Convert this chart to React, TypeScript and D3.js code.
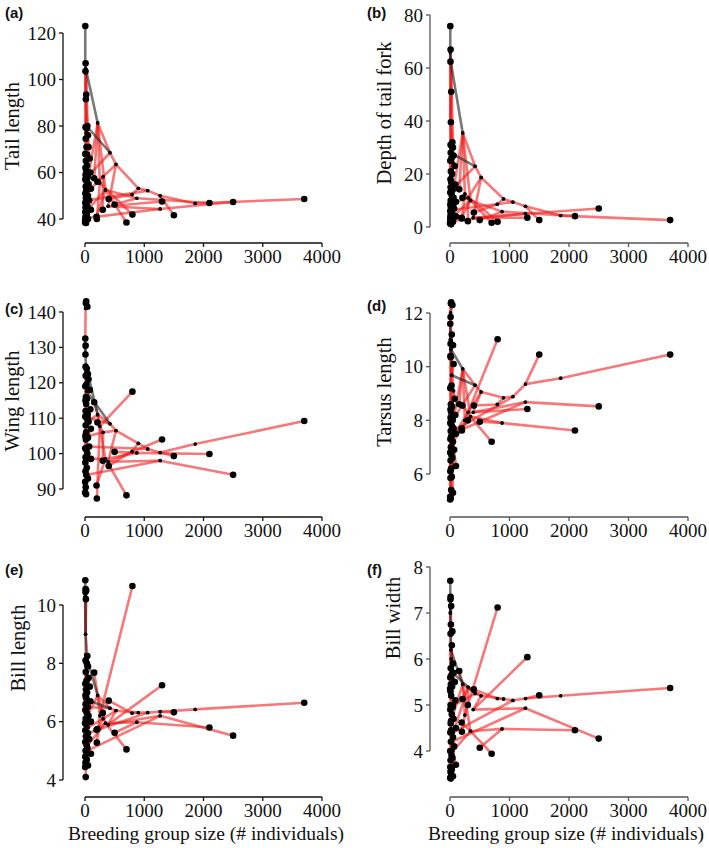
import React from "react";
import * as d3 from "d3";

// ---------- DATA ----------
const xTickValues = [0, 1000, 2000, 3000, 4000];

// Tree: internal nodes 0-26, big-group tips 27-40, small-group tips 41-85
const nodeX = [
  15, 4, 214, 422, 28, 523, 900, 1058, 1268, 1860, 1268, 875, 795, 345, 305, 250, 390,
  60, 40, 50, 20, 45, 35, 20, 55, 10, 70,
  3700, 2500, 2100, 1500, 1300, 800, 700, 500, 400, 300, 200, 195, 210, 155,
  5, 10, 8, 20, 15, 40, 10, 30, 50, 12, 60, 25, 5, 80, 15, 35, 8, 20, 90, 10, 45, 5, 30, 60, 12,
  100, 20, 6, 50, 15, 70, 4, 25, 40, 10, 100, 5, 30, 8, 20, 50, 3, 12, 2, 18,
];

const nodeParent = [
  -1, 0, 0, 2, 3, 3, 5, 6, 7, 8, 16, 13, 6, 2, 5, 2, 5,
  0, 2, 13, 4, 7, 10, 17, 14, 1, 3,
  9, 10, 11, 8, 16, 15, 13, 11, 12, 14, 15, 13, 14, 2,
  1, 1, 1, 25, 25, 25, 20, 20, 20, 20, 4, 17, 17, 17, 23, 23, 23, 23, 26, 26, 26,
  18, 18, 18, 18, 24, 24, 24, 24, 21, 21, 21, 21, 19, 19, 19, 19, 19, 22, 22, 22, 22, 0, 0, 0,
];

const grayEdges = [1, 2, 4, 41, 42, 43];
const firstTip = 27;

const tailLength = [
  104.5, 107, 81.3, 68.5, 80, 63.5, 53.2, 52.2, 50.0, 46.7, 44.3, 48.9, 50.5, 52.5, 58.2, 55.5, 45.5,
  68, 56, 44, 77, 48, 40.5, 63, 52, 92, 59,
  48.6, 47.3, 46.9, 41.6, 47.5, 41.9, 38.5, 46.2, 48.6, 44.0, 40.0, 41.0, 56.0, 57.5,
  123, 107, 103.5, 93.5, 91.5, 80, 79.5, 79, 76, 74.5, 71, 71, 68, 66, 65, 63, 62, 61, 60, 59, 58,
  57, 56, 55, 54, 53, 52, 51, 50, 49, 48, 47, 46, 45.5, 45, 44, 43, 42, 41, 40.5, 40, 39.5, 39, 38.5, 38.3,
];

const forkDepth = [
  62, 66, 35.5, 22.9, 27.8, 18.7, 10.6, 9.4, 7.8, 4.3, 5.0, 5.8, 8.6, 10.0, 11.0, 12.5, 3.5,
  24, 11.5, 4, 29, 6.5, 2.3, 19, 9, 40, 15,
  2.6, 7.0, 4.1, 2.6, 3.5, 2.0, 1.6, 2.6, 5.5, 2.2, 3.2, 3.5, 11.0, 14.2,
  75.8, 67, 62.4, 51, 39.5, 32, 31, 30.5, 30, 28, 27, 26, 25, 23, 21, 20, 18, 17, 16, 15, 14,
  13, 12, 11, 10, 9.5, 9, 8.5, 8, 7.5, 7, 6, 5.5, 5, 4.5, 4, 3.5, 3, 2.8, 2.5, 2, 1.8, 1.5, 1.3, 1.0,
];

const wingLength = [
  125, 130, 111, 108.4, 117.6, 106.5, 102.9, 101.3, 100.3, 102.7, 98.0, 100.2, 100.6, 98.5, 106.0, 107.7, 97.7,
  118, 109, 98.5, 123, 102, 94, 115, 105, 141, 110,
  109.2, 94.0, 99.9, 99.3, 104.0, 117.5, 88.2, 100.5, 96.5, 98.0, 87.3, 91.0, 108.8, 114.5,
  132.5, 130.5, 128, 143, 142.5, 141.5, 124.5, 124, 122.5, 122, 121, 119.5, 119, 118, 116, 115.5, 115, 114, 112.5, 112, 111,
  110.5, 110, 109, 108, 107, 106, 105, 104.5, 104, 102, 101.5, 101, 100, 99, 98.5, 97.5, 96, 95, 94, 93, 92, 90.5, 89, 88.5,
];

const tarsusLength = [
  10.65, 11.0, 9.92, 9.31, 9.68, 9.06, 8.84, 8.88, 9.35, 9.57, 8.68, 7.9, 8.59, 8.14, 8.3, 8.0, 8.3,
  9.1, 7.8, 7.2, 11.0, 7.6, 7.5, 8.5, 7.4, 12.0, 8.1,
  10.45, 8.52, 7.62, 10.45, 8.42, 11.02, 7.2, 7.95, 8.55, 8.0, 7.62, 7.7, 8.55, 8.6,
  11.6, 10.85, 10.4, 12.4, 12.35, 12.3, 11.85, 11.2, 10.8, 10.35, 10.1, 9.3, 9.2, 8.8, 8.6, 8.5, 8.4, 8.3, 8.2, 8.1, 8.0,
  7.9, 7.8, 7.7, 7.6, 7.5, 7.4, 7.3, 7.2, 7.0, 6.9, 6.8, 6.7, 6.6, 6.5, 6.3, 6.1, 5.9, 5.85, 5.4, 5.3, 5.15, 5.1, 5.05, 6.2,
];

const billLength = [
  8.3, 10.3, 6.9, 6.46, 6.74, 6.38, 6.31, 6.31, 6.34, 6.42, 6.2, 5.98, 6.29, 5.95, 6.1, 6.2, 5.9,
  7.2, 6.2, 5.2, 7.9, 5.6, 5.0, 6.9, 5.8, 9.0, 6.5,
  6.65, 5.52, 5.8, 6.32, 7.25, 10.65, 5.05, 5.62, 6.72, 6.3, 5.28, 5.72, 5.75, 7.68,
  10.85, 10.55, 10.45, 10.5, 10.2, 8.25, 8.1, 8.0, 7.9, 7.7, 7.5, 7.4, 7.3, 7.2, 7.1, 7.0, 6.9, 6.8, 6.7, 6.6, 6.5,
  6.4, 6.3, 6.2, 6.1, 6.0, 5.9, 5.7, 5.6, 5.5, 5.4, 5.3, 5.2, 5.1, 5.0, 4.9, 4.8, 4.7, 4.6, 4.55, 4.5, 4.45, 4.1, 5.95, 6.85,
];

const billWidth = [
  6.2, 7.0, 5.45, 5.25, 5.72, 5.2, 5.13, 5.1, 5.14, 5.2, 4.93, 4.48, 5.14, 4.43, 5.39, 4.78, 4.9,
  5.55, 4.75, 4.0, 6.0, 4.4, 4.2, 5.3, 4.4, 6.6, 5.0,
  5.37, 4.27, 4.45, 5.21, 6.04, 7.12, 3.94, 4.07, 5.34, 5.0, 4.42, 4.62, 5.13, 5.74,
  7.7, 7.35, 7.3, 7.15, 6.75, 6.6, 6.55, 6.3, 5.9, 5.8, 5.7, 5.65, 5.6, 5.5, 5.45, 5.4, 5.3, 5.2, 5.1, 5.0, 4.95,
  4.9, 4.8, 4.7, 4.6, 4.5, 4.45, 4.4, 4.3, 4.2, 4.1, 4.0, 3.9, 3.85, 3.8, 3.7, 3.65, 3.6, 3.55, 3.5, 3.45, 3.42, 3.4, 5.35, 4.65,
];

const panelLabels = ["(a)", "(b)", "(c)", "(d)", "(e)", "(f)"];
const panelTitles = ["Tail length", "Depth of tail fork", "Wing length", "Tarsus length", "Bill length", "Bill width"];
const panelValues = [tailLength, forkDepth, wingLength, tarsusLength, billLength, billWidth];
const panelYTicks = [
  [40, 60, 80, 100, 120],
  [0, 20, 40, 60, 80],
  [90, 100, 110, 120, 130, 140],
  [6, 8, 10, 12],
  [4, 6, 8, 10],
  [4, 5, 6, 7, 8],
];
const xTitle = "Breeding group size (# individuals)";

// ---------- LAYOUT ----------
const layouts = [
  { axX: 63, yTop: 33, yBot: 219, axY: 243, x0: 85, x1: 322, tX: 12, tY: 126, lX: 5, lY: 13, col: "#111", xtX: 0 },
  { axX: 430, yTop: 15, yBot: 227, axY: 243, x0: 450, x1: 688, tX: 384, tY: 113, lX: 367, lY: 13, col: "#555", xtX: 0 },
  { axX: 63, yTop: 312, yBot: 489, axY: 517, x0: 85, x1: 322, tX: 12, tY: 401, lX: 5, lY: 309, col: "#111", xtX: 0 },
  { axX: 430, yTop: 313, yBot: 474, axY: 517, x0: 450, x1: 688, tX: 384, tY: 392, lX: 367, lY: 306, col: "#555", xtX: 0 },
  { axX: 63, yTop: 605, yBot: 780, axY: 797, x0: 85, x1: 322, tX: 18, tY: 648, lX: 5, lY: 570, col: "#111", xtX: 206 },
  { axX: 430, yTop: 567, yBot: 751, axY: 797, x0: 450, x1: 688, tX: 393, tY: 618, lX: 367, lY: 570, col: "#555", xtX: 566 },
];

const serif = "'Liberation Serif', 'Times New Roman', serif";
const sans = "'Liberation Sans', Arial, sans-serif";

function Panel({ idx }: { idx: number }) {
  const L = layouts[idx];
  const ticks = panelYTicks[idx];
  const vals = panelValues[idx];
  const x = d3.scaleLinear().domain([0, 4000]).range([L.x0, L.x1]);
  const y = d3
    .scaleLinear()
    .domain([ticks[0], ticks[ticks.length - 1]])
    .range([L.yBot, L.yTop]);

  const edges = nodeParent
    .map((p, i) => ({ p, i }))
    .filter((e) => e.p >= 0);
  const redEdges = edges.filter((e) => !grayEdges.includes(e.i));
  const greyEdges = edges.filter((e) => grayEdges.includes(e.i));

  const seg = (e: { p: number; i: number }, stroke: string, op: number) => (
    <line
      key={`e${e.i}`}
      x1={x(nodeX[e.p])}
      y1={y(vals[e.p])}
      x2={x(nodeX[e.i])}
      y2={y(vals[e.i])}
      stroke={stroke}
      strokeOpacity={op}
      strokeWidth={2.6}
      strokeLinecap="round"
    />
  );

  return (
    <g>
      {/* y axis */}
      <line x1={L.axX} x2={L.axX} y1={L.yTop} y2={L.yBot} stroke={L.col} strokeWidth={1.3} />
      {ticks.map((t) => (
        <g key={`yt${t}`}>
          <line x1={L.axX - 4} x2={L.axX} y1={y(t)} y2={y(t)} stroke={L.col} strokeWidth={1.3} />
          <text
            x={L.axX - 7}
            y={y(t)}
            textAnchor="end"
            dominantBaseline="central"
            fontFamily={serif}
            fontSize={19}
            fill="#111"
          >
            {t}
          </text>
        </g>
      ))}
      {/* x axis */}
      <line x1={x(0)} x2={x(4000)} y1={L.axY} y2={L.axY} stroke={L.col} strokeWidth={1.3} />
      {xTickValues.map((t) => (
        <g key={`xt${t}`}>
          <line x1={x(t)} x2={x(t)} y1={L.axY} y2={L.axY + 4} stroke={L.col} strokeWidth={1.3} />
          <text x={x(t)} y={L.axY + 20} textAnchor="middle" fontFamily={serif} fontSize={19} fill="#111">
            {t}
          </text>
        </g>
      ))}
      {/* titles */}
      <text
        transform={`translate(${L.tX},${L.tY}) rotate(-90)`}
        textAnchor="middle"
        dominantBaseline="central"
        fontFamily={serif}
        fontSize={20.5}
        fill="#111"
      >
        {panelTitles[idx]}
      </text>
      <text x={L.lX} y={L.lY + 5} fontFamily={sans} fontWeight="bold" fontSize={15} fill="#111">
        {panelLabels[idx]}
      </text>
      {idx >= 4 && (
        <text
          x={L.xtX}
          y={L.axY + 43}
          textAnchor="middle"
          fontFamily={serif}
          fontSize={19.5}
          fill="#111"
        >
          {xTitle}
        </text>
      )}
      {/* edges */}
      {redEdges.map((e) => seg(e, "rgb(240,30,30)", 0.6))}
      {greyEdges.map((e) => seg(e, "rgb(30,30,30)", 0.6))}
      {/* nodes and tips */}
      {nodeX.map((nx, i) => (
        <circle
          key={`n${i}`}
          cx={x(nx)}
          cy={y(vals[i])}
          r={i >= firstTip ? 3.3 : 1.9}
          fill="#000"
        />
      ))}
    </g>
  );
}

export default function App() {
  return (
    <svg
      width={709}
      height={848}
      style={{ position: "absolute", left: 0, top: 0, background: "#fff" }}
    >
      <rect x={0} y={0} width={709} height={848} fill="#fff" />
      {layouts.map((_, i) => (
        <Panel key={i} idx={i} />
      ))}
    </svg>
  );
}
